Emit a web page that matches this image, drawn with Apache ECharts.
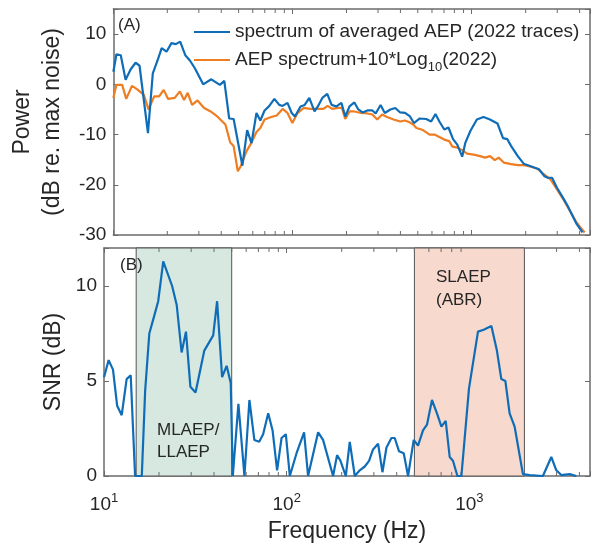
<!DOCTYPE html>
<html>
<head>
<meta charset="utf-8">
<script src="https://cdn.jsdelivr.net/npm/echarts@6.0.0/dist/echarts.min.js"></script>
<style>
  html, body { margin: 0; padding: 0; background: #fff; }
  #chart { width: 594px; height: 548px; }
</style>
</head>
<body>
<div id="chart"></div>
<script>
// panel A: spectrum of the averaged AEP (blue)
var blueFreq = [10, 10.4, 11.0, 11.7, 12.5, 13.3, 14.0, 15.6, 16.6, 17.7, 18.6, 19.8, 21.1, 22.3, 23.6, 25.2, 26.8, 28.5,
  31.7, 35.2, 39.3, 41.6, 44.3, 46.9, 52.5, 55.8, 59.0, 62.9, 66.1, 69.8, 73.8, 79.2, 84.3, 88.0, 93.7, 98.9, 103.1,
  110.8, 116.9, 124.0, 132.6, 138.4, 146.6, 156.2, 165.2, 175.9, 187.3, 196.9, 207.9, 221.4, 232.8, 245.8, 261.7,
  278.9, 291.0, 310.0, 327.1, 351.6, 374.3, 398.8, 424.6, 452.3, 475.5, 513, 557.1, 593.7, 627.4, 659.9, 702.6,
  741.6, 786.8, 830.6, 884.6, 921.9, 982.4, 1068, 1163, 1264, 1392, 1495, 1578, 1660, 1807, 1949, 2135, 2372, 2547,
  2654, 2807, 2990, 3184, 3392, 3611, 3847, 4148];
var blueDb = [2.5, 6.0, 5.8, 0.9, 3.0, 4.3, 3.7, -9.7, 2.2, 4.9, 7.2, 6.5, 8.2, 8.0, 8.5, 5.8, 4.7, 3.2,
  0.0, 1.0, -0.1, 0.7, -6.8, -6.9, -16.2, -9.1, -11.7, -5.7, -7.2, -5.2, -4.4, -2.9, -4.1, -4.3, -3.7, -5.7, -6.4,
  -4.4, -4.1, -2.7, -5.4, -4.4, -2.7, -1.9, -4.1, -4.4, -3.7, -6.4, -4.4, -3.6, -5.0, -5.6, -5.2,
  -5.2, -5.8, -4.1, -5.7, -5.0, -4.7, -5.6, -5.7, -6.4, -7.7, -6.8, -6.9, -7.4, -5.9, -7.4, -9.0,
  -8.6, -10.9, -12.0, -14.4, -11.6, -9.3, -7.0, -6.5, -7.0, -7.8, -10.7, -10.9, -12.3, -14.3, -15.8, -16.3, -16.9, -18.3,
  -18.6, -18.6, -20.6, -22.2, -23.9, -25.8, -27.8, -29.5];

// panel A: single-trace spectrum + 10*log10(2022) (orange)
var orangeFreq = [10, 10.4, 11.2, 11.8, 12.7, 13.6, 14.8, 15.7, 16.9, 18.0, 19.1, 20.2, 22.0, 23.5, 24.8, 26.0, 27.5,
  29.5, 32.1, 34.9, 38.0, 42.2, 44.9, 46.9, 49.5, 51.4, 55.4, 59.0, 62.9, 66.1, 69.8, 76.0, 81.6, 88.0, 93.7, 99.8,
  106.2, 115.5, 125.6, 136.6, 148.6, 157.0, 166.3, 179.4, 188.6, 196.9, 207.9, 221.4, 241.0, 261.7, 278.9, 296.9,
  316.3, 336.6, 366.4, 398.8, 424.6, 452.3, 471.3, 491.2, 534.5, 581.9, 619.5, 659.9, 702.6, 748.5, 780.0, 830.6,
  884.6, 942.1, 1025, 1114, 1186, 1264, 1345, 1414, 1514, 1660, 1807, 1963, 2135, 2325, 2525, 2747, 2990, 3247,
  3534, 3847, 4044, 4269];
var orangeDb = [-2.7, -0.1, -0.1, -2.9, -0.3, -1.0, -2.1, -5.0, -2.4, -2.4, -1.1, -2.9, -2.7, -1.4, -3.1, -1.7, -4.1,
  -3.2, -4.7, -5.4, -6.4, -8.0, -11.6, -12.3, -17.3, -16.3, -13.3, -11.6, -9.5, -8.7, -7.0, -6.5, -6.2, -4.9, -5.7, -7.7,
  -5.8, -4.7, -4.9, -4.9, -4.9, -4.3, -4.9, -4.7, -4.7, -6.9, -5.4, -5.4, -5.7, -5.8, -6.0, -7.0,
  -6.0, -6.5, -7.0, -7.4, -7.2, -7.6, -8.0, -8.7, -9.1, -10.0, -10.0, -10.5, -11.0, -11.3, -12.4, -12.6,
  -13.1, -13.8, -14.0, -14.3, -14.6, -14.3, -15.1, -14.6, -15.6, -15.9, -16.1, -16.1, -16.4, -16.8, -17.9, -18.9, -20.9, -22.9,
  -25.2, -27.5, -28.5, -29.5];

// panel B: SNR
var snrFreq = [10, 10.6, 11.2, 11.8, 12.5, 13.3, 14.0, 14.8, 16.1, 16.8, 17.7, 18.8, 19.8, 21.1, 23.6, 25.0, 26.6,
  28.1, 29.7, 31.7, 35.4, 39.6, 41.6, 44.3, 46.9, 49.4, 50.7, 54.4, 58.7, 62.5, 66.5, 70.7, 74.3, 79.2, 83.7, 88.6,
  93.7, 98.9, 104.0, 113.2, 124.5, 130.9, 148.6, 158.1, 179.4, 188.6, 196.9, 210.5, 221.4, 235.8, 251.1, 267.5,
  282.3, 296.9, 316.3, 334.2, 351.6, 374.3, 390.2, 411.9, 437.0, 461.5, 495.6, 523.4, 557.1, 585.8, 624.0, 664.4,
  702.6, 741.6, 780.0, 812.9, 859.6, 903.9, 994.5, 1114, 1197, 1319, 1414, 1495, 1573, 1660, 1768, 1963, 2135,
  2525, 2807, 2990, 3184, 3534, 3847];
var snrDb = [5.2, 6.1, 5.6, 3.7, 3.2, 5.1, 5.3, 0, 0, 4.5, 7.5, 8.4, 9.2, 11.3, 10.0, 9.0, 6.5,
  7.6, 4.7, 4.4, 6.6, 7.4, 9.2, 5.2, 5.8, 4.9, 0, 3.8, 0, 4.0, 1.9, 1.8, 2.2, 3.3, 2.4, 0.3,
  2.0, 2.2, 0, 1.2, 2.3, 0, 2.3, 1.9, 0, 1.1, 0.8, 0, 1.8, 0, 0.3, 0.5,
  0.8, 1.4, 1.7, 0.2, 1.5, 2.0, 2.0, 1.3, 1.2, 0, 1.9, 1.6, 2.4, 2.7, 4.0, 3.3,
  2.6, 2.9, 1.0, 0.8, 0, 0, 4.6, 7.6, 7.7, 7.9, 6.6, 5.1, 5.0, 3.3, 2.6, 0.1, 0.05,
  0, 1.0, 0.3, 0.05, 0.1, 0];

// shaded frequency bands (Hz)
var mlaepBand = [15, 50];
var slaepBand = [500, 2000];

// minor ticks of the log axis
var minorTicks = [20, 30, 40, 50, 60, 70, 80, 90, 200, 300, 400, 500, 600, 700, 800, 900, 2000, 3000, 4000];

var nameBlue = 'spectrum of averaged AEP (2022 traces)';
var nameOrange = 'AEP spectrum+10*Log10(2022)';

function pairs(xs, ys) {
  return xs.map(function (x, i) { return [x, ys[i]]; });
}

var FONT = "'Liberation Sans', Arial, sans-serif";
var TXT = '#262626';
var FRAME = '#6b6b6b';
var BLUE = '#0f6db8';
var ORANGE = '#ef7d22';

// frequency axis: 10^n labels
function logLabel(v) {
  var e = Math.log(v) / Math.LN10;
  if (Math.abs(e - Math.round(e)) < 1e-6) return '10{sup|' + Math.round(e) + '}';
  return '';
}

function xAx(grid, pos, labels) {
  return {
    gridIndex: grid, type: 'log', logBase: 10, min: 10, max: 4571, position: pos,
    axisLine: { show: true, onZero: false, lineStyle: { color: FRAME, width: 1.5 } },
    axisTick: { show: true, inside: true, length: 5, lineStyle: { color: FRAME } },
    splitLine: { show: false },
    axisLabel: {
      show: labels, formatter: logLabel, color: TXT, fontFamily: FONT, fontSize: 19,
      lineHeight: 26, margin: 16,
      rich: { sup: { fontSize: 13, fontFamily: FONT, color: TXT, padding: [0, 0, 13, 0] } }
    }
  };
}

function yAx(grid, pos, min, max, step, labels) {
  return {
    gridIndex: grid, type: 'value', min: min, max: max, interval: step, position: pos,
    axisLine: { show: true, onZero: false, lineStyle: { color: FRAME, width: 1.5 } },
    axisTick: { show: true, inside: true, length: 5, lineStyle: { color: FRAME } },
    splitLine: { show: false },
    axisLabel: {
      show: labels, color: TXT, fontFamily: FONT, fontSize: 19, margin: 7,
      formatter: function (v) { return v % step === 0 ? String(v) : ''; }
    }
  };
}

// little inward ticks at 20,30,...  top and bottom of a panel
function minorTickItem(params, api) {
  var cs = params.coordSys;
  var x = api.coord([api.value(0), api.value(1)])[0];
  var st = { stroke: FRAME, lineWidth: 1 };
  return {
    type: 'group',
    children: [
      { type: 'line', shape: { x1: x, y1: cs.y + cs.height, x2: x, y2: cs.y + cs.height - 4 }, style: st },
      { type: 'line', shape: { x1: x, y1: cs.y, x2: x, y2: cs.y + 4 }, style: st }
    ]
  };
}

var bandBorder = { borderColor: '#555', borderWidth: 1 };

var option = {
  animation: false,
  backgroundColor: '#fff',
  textStyle: { fontFamily: FONT },
  grid: [
    { left: 104, top: 9, width: 486, height: 226 },
    { left: 104, top: 248, width: 486, height: 228 }
  ],
  xAxis: [
    xAx(0, 'bottom', false),
    xAx(0, 'top', false),
    Object.assign(xAx(1, 'bottom', true), {
      name: 'Frequency (Hz)', nameLocation: 'middle', nameGap: 44,
      nameTextStyle: { color: TXT, fontFamily: FONT, fontSize: 23 }
    }),
    xAx(1, 'top', false)
  ],
  yAxis: [
    Object.assign(yAx(0, 'left', -30, 15, 10, true), {
      name: 'Power\n(dB re. max noise)', nameLocation: 'middle', nameGap: 44, nameRotate: 90,
      nameTextStyle: { color: TXT, fontFamily: FONT, fontSize: 23, lineHeight: 30 }
    }),
    yAx(0, 'right', -30, 15, 10, false),
    Object.assign(yAx(1, 'left', 0, 12, 5, true), {
      name: 'SNR (dB)', nameLocation: 'middle', nameGap: 32, nameRotate: 90,
      nameTextStyle: { color: TXT, fontFamily: FONT, fontSize: 23 }
    }),
    yAx(1, 'right', 0, 12, 5, false)
  ],
  legend: [
    {
      data: [nameBlue], left: 194, top: 22, orient: 'vertical', padding: 0,
      icon: 'rect', itemWidth: 36, itemHeight: 2, itemGap: 0,
      textStyle: { color: TXT, fontFamily: FONT, fontSize: 19, lineHeight: 20 }
    },
    {
      data: [nameOrange], left: 194, top: 50, orient: 'vertical', padding: 0,
      icon: 'rect', itemWidth: 36, itemHeight: 2, itemGap: 0,
      formatter: function () { return 'AEP spectrum+10*Log{sub|10}(2022)'; },
      textStyle: {
        color: TXT, fontFamily: FONT, fontSize: 19, lineHeight: 20,
        rich: { sub: { fontSize: 13, fontFamily: FONT, color: TXT, padding: [14, 0, 0, 0] } }
      }
    }
  ],
  graphic: [
    { type: 'text', z: 100, left: 118, top: 17, style: { text: '(A)', font: '17px ' + FONT, fill: TXT } },
    { type: 'text', z: 100, left: 120, top: 257, style: { text: '(B)', font: '17px ' + FONT, fill: TXT } },
    { type: 'text', z: 100, left: 157, top: 419, style: { text: 'MLAEP/\nLLAEP', font: '17px ' + FONT, fill: TXT, lineHeight: 22 } },
    { type: 'text', z: 100, left: 436, top: 266, style: { text: 'SLAEP\n(ABR)', font: '17px ' + FONT, fill: TXT, lineHeight: 23 } }
  ],
  series: [
    {
      name: nameBlue, type: 'line', xAxisIndex: 0, yAxisIndex: 0, data: pairs(blueFreq, blueDb),
      symbol: 'none', lineStyle: { color: BLUE, width: 2.2 }, itemStyle: { color: BLUE }, z: 3
    },
    {
      name: nameOrange, type: 'line', xAxisIndex: 0, yAxisIndex: 0, data: pairs(orangeFreq, orangeDb),
      symbol: 'none', lineStyle: { color: ORANGE, width: 2.2 }, itemStyle: { color: ORANGE }, z: 2
    },
    {
      name: 'SNR', type: 'line', xAxisIndex: 2, yAxisIndex: 2, data: pairs(snrFreq, snrDb),
      symbol: 'none', lineStyle: { color: BLUE, width: 2.2 }, itemStyle: { color: BLUE }, z: 3,
      markArea: {
        silent: true,
        data: [
          [{ xAxis: mlaepBand[0], itemStyle: Object.assign({ color: '#d6e8e0' }, bandBorder) }, { xAxis: mlaepBand[1] }],
          [{ xAxis: slaepBand[0], itemStyle: Object.assign({ color: '#f7d9cd' }, bandBorder) }, { xAxis: slaepBand[1] }]
        ]
      }
    },
    {
      type: 'custom', xAxisIndex: 0, yAxisIndex: 0, silent: true, renderItem: minorTickItem,
      data: minorTicks.map(function (f) { return [f, 0]; })
    },
    {
      type: 'custom', xAxisIndex: 2, yAxisIndex: 2, silent: true, renderItem: minorTickItem,
      data: minorTicks.map(function (f) { return [f, 0]; })
    }
  ]
};

var myChart = echarts.init(document.getElementById('chart'), null, { renderer: 'canvas' });
myChart.setOption(option);
</script>
</body>
</html>
